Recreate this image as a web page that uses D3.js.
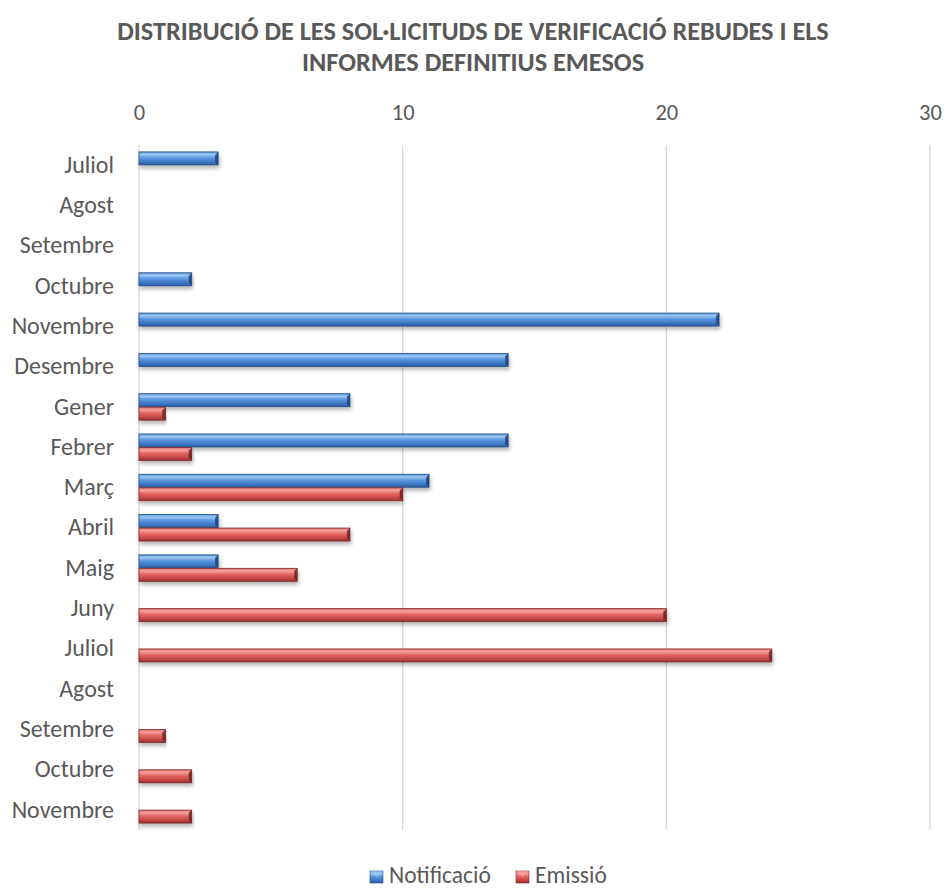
<!DOCTYPE html>
<html>
<head>
<meta charset="utf-8">
<script src="https://cdn.jsdelivr.net/npm/d3@7"></script>
<style>
  body { margin: 0; background: #fff; }
  svg { font-family: Carlito, "Open Sans", "Liberation Sans", sans-serif; }
</style>
</head>
<body>
<svg id="chart" width="947" height="890"></svg>
<script>
// ── Data ──
const months = ["Juliol","Agost","Setembre","Octubre","Novembre","Desembre","Gener","Febrer",
                "Març","Abril","Maig","Juny","Juliol","Agost","Setembre","Octubre","Novembre"];
const notificacio = [3,0,0,2,22,14,8,14,11,3,3,0,0,0,0,0,0];
const emissio     = [0,0,0,0,0,0,1,2,10,8,6,20,24,0,1,2,2];
const xTicks = [0,10,20,30];
const seriesNames = ["Notificació","Emissió"];

const svg = d3.select('#chart');
const textColor = '#595959';
const fontStack = 'Carlito, "Open Sans", sans-serif';

// ── Scales ──
const x = d3.scaleLinear().domain([0, 30]).range([139, 930]);
const y = d3.scaleBand().domain(d3.range(months.length)).range([145, 830]).paddingInner(0.33).paddingOuter(0.165);
const sub = d3.scaleBand().domain([0, 1]).range([0, y.bandwidth()]);

// ── Gradients for the bevelled bar look ──
const defs = svg.append('defs');
const palettes = [
    { id: 'g-blue', stops: ['#5a95dc','#9cc8f4','#5b97e0','#3f79c6','#2b5a9c'], edge: '#234e86', end: '#1d4478' },
    { id: 'g-red',  stops: ['#e06a68','#f6a3a0','#e36664','#c84a48','#943030'], edge: '#7e2a2a', end: '#6e2222' }
];
palettes.forEach(p => {
    const g = defs.append('linearGradient').attr('id', p.id).attr('x1', 0).attr('y1', 0).attr('x2', 0).attr('y2', 1);
    [0, 0.2, 0.45, 0.75, 1].forEach((o, i) => g.append('stop').attr('offset', o).attr('stop-color', p.stops[i]));
});
const shadow = defs.append('filter').attr('id', 'shadow').attr('x', '-5%').attr('y', '-30%').attr('width', '110%').attr('height', '190%');
shadow.append('feGaussianBlur').attr('in', 'SourceAlpha').attr('stdDeviation', 2.2);
shadow.append('feOffset').attr('dx', 1).attr('dy', 3).attr('result', 'b');
shadow.append('feComponentTransfer').append('feFuncA').attr('type', 'linear').attr('slope', 0.3);
const merge = shadow.append('feMerge');
merge.append('feMergeNode');
merge.append('feMergeNode').attr('in', 'SourceGraphic');

// ── Title ──
const title = svg.append('text').attr('text-anchor', 'middle').attr('fill', textColor)
    .attr('font-size', 26.3).attr('font-weight', 'bold');
title.append('tspan').attr('x', 473).attr('y', 40).text('DISTRIBUCIÓ DE LES SOL·LICITUDS DE VERIFICACIÓ REBUDES I ELS');
title.append('tspan').attr('x', 473).attr('y', 71).text('INFORMES DEFINITIUS EMESOS');

// ── Gridlines ──
svg.append('g').selectAll('line').data(xTicks).enter().append('line')
    .attr('x1', d => x(d)).attr('x2', d => x(d))
    .attr('y1', 145).attr('y2', 830)
    .attr('stroke', '#d9d9d9').attr('stroke-width', 1.3);

// ── X axis (top) ──
const xAxis = svg.append('g').attr('transform', 'translate(0,112)')
    .call(d3.axisTop(x).tickValues(xTicks).tickSize(0).tickPadding(0));
xAxis.select('.domain').remove();
xAxis.selectAll('text').attr('font-size', 22.5).attr('fill', textColor).attr('dy', '0.35em')
    .style('font-family', fontStack);

// ── Y axis (categories) ──
const yAxis = svg.append('g').attr('transform', 'translate(114,0)')
    .call(d3.axisLeft(y).tickFormat(i => months[i]).tickSize(0).tickPadding(0));
yAxis.select('.domain').remove();
yAxis.selectAll('text').attr('font-size', 24).attr('fill', textColor)
    .style('font-family', fontStack);

// ── Bars ──
const barH = 13;
[notificacio, emissio].forEach((vals, si) => {
    const p = palettes[si];
    const g = svg.append('g');
    vals.forEach((v, i) => {
        if (!v) return;
        const x0 = x(0), x1 = x(v);
        const yc = y(i) + sub(si) + sub.bandwidth() / 2;
        const y0 = yc - barH / 2;
        const bg = g.append('g').attr('filter', 'url(#shadow)');
        bg.append('rect').attr('x', x0).attr('y', y0).attr('width', x1 - x0).attr('height', barH)
            .attr('fill', `url(#${p.id})`).attr('stroke', p.edge).attr('stroke-width', 0.8);
        // bevelled end cap
        const b = 3;
        bg.append('path')
            .attr('d', `M${x1 - b},${y0 + b} L${x1},${y0} L${x1},${y0 + barH} L${x1 - b},${y0 + barH - b} Z`)
            .attr('fill', p.end).attr('opacity', 0.85);
    });
});

// ── Legend ──
const legend = svg.append('g').attr('transform', 'translate(370,883)');
const legendX = [0, 146];
seriesNames.forEach((name, si) => {
    const p = palettes[si];
    const lg = legend.append('g').attr('transform', `translate(${legendX[si]},0)`);
    lg.append('rect').attr('x', 0).attr('y', -12).attr('width', 13).attr('height', 12)
        .attr('fill', `url(#${p.id})`).attr('stroke', p.edge).attr('stroke-width', 0.6);
    lg.append('path').attr('d', 'M0,-12 L6.5,-6 L13,-12 Z').attr('fill', p.stops[1]).attr('opacity', 0.7);
    lg.append('text').attr('x', 19).attr('y', 0)
        .attr('font-size', 23.5).attr('fill', textColor).text(name);
});
</script>
</body>
</html>
